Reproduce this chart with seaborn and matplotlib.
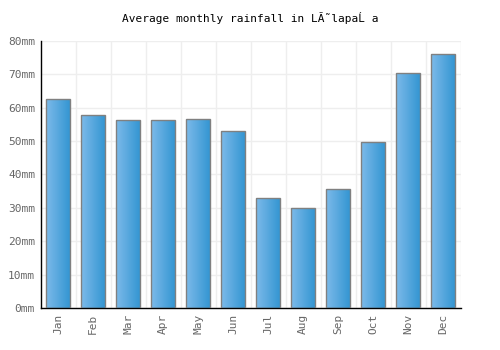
import matplotlib
matplotlib.use('Agg')
import matplotlib.pyplot as plt
import seaborn as sns
import pandas as pd
import numpy as np

months = ['Jan', 'Feb', 'Mar', 'Apr', 'May', 'Jun', 'Jul', 'Aug', 'Sep', 'Oct', 'Nov', 'Dec']
rainfall = [62.5, 57.7, 56.2, 56.2, 56.5, 53.0, 33.0, 30.0, 35.6, 49.7, 70.3, 76.0]
y_ticks = [0, 10, 20, 30, 40, 50, 60, 70, 80]

sns.set_style('white')
plt.rcParams['font.family'] = ['DejaVu Sans Mono', 'DejaVu Sans']

df = pd.DataFrame({'month': months, 'rain': rainfall})

fig, ax = plt.subplots(figsize=(5, 3.5), dpi=100)
fig.subplots_adjust(left=0.081, right=0.921, top=0.883, bottom=0.12)

sns.barplot(data=df, x='month', y='rain', ax=ax, width=0.67,
            color='#4fa3dc', edgecolor='#808080', linewidth=1, saturation=1, zorder=2)

# horizontal gradient fill inside each bar
grad = np.linspace(0, 1, 64).reshape(1, -1)
cmap = matplotlib.colors.LinearSegmentedColormap.from_list('bar', ['#7cbaea', '#3596d2'])
for p in ax.patches:
    x0, y0 = p.get_x(), p.get_y()
    w, h = p.get_width(), p.get_height()
    im = ax.imshow(grad, cmap=cmap, extent=[x0, x0 + w, y0, y0 + h],
                   aspect='auto', zorder=2.5)
    im.set_clip_path(p)
    p.set_facecolor('none')
    p.set_zorder(3)

ax.set_xlim(-0.5, len(months) - 0.5)
ax.set_ylim(0, 80)
ax.set_yticks(y_ticks)
ax.set_yticklabels([f'{v}mm' for v in y_ticks])
ax.set_xticks(np.arange(len(months)))
ax.set_xticklabels(months, rotation=90)
ax.set_xticks(np.arange(len(months)) + 0.5, minor=True)

ax.grid(axis='y', color='#eeeeee', linewidth=1, zorder=0)
ax.grid(axis='x', which='minor', color='#eeeeee', linewidth=1, zorder=0)
ax.set_axisbelow(True)

ax.tick_params(axis='both', which='both', length=0, labelsize=8, labelcolor='#666666', pad=4)
ax.set_xlabel('')
ax.set_ylabel('')

for s in ['top', 'right']:
    ax.spines[s].set_visible(False)
for s in ['left', 'bottom']:
    ax.spines[s].set_color('black')
    ax.spines[s].set_linewidth(1)

ax.set_title('Average monthly rainfall in LÃ˜lapaĹ a', fontsize=8, color='black', pad=14)

plt.savefig('out.png', dpi=100)
plt.close()
